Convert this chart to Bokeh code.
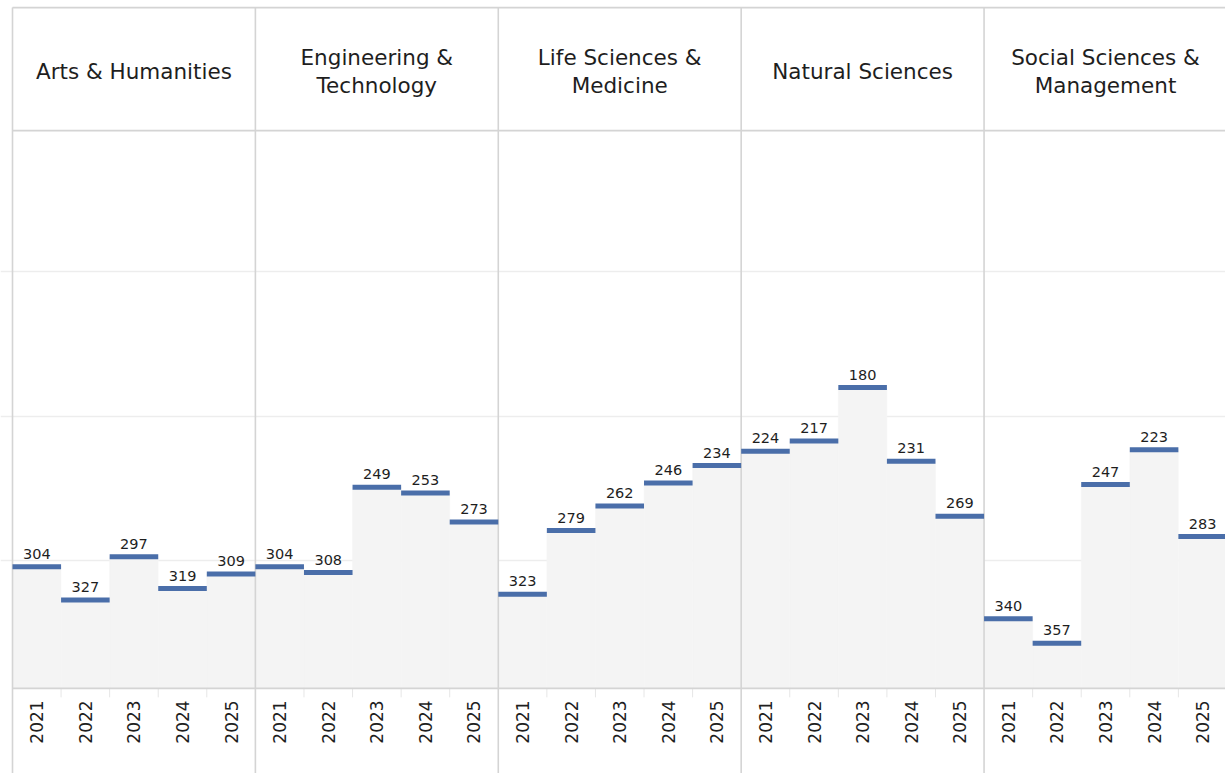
import math
from bokeh.plotting import figure
from bokeh.models import Range1d, FixedTicker, ColumnDataSource, Grid
from bokeh.embed import file_html
from bokeh.resources import INLINE
from bokeh.core.properties import value

# ---------------- data ----------------
subjects = ["Arts & Humanities", "Engineering & Technology", "Life Sciences & Medicine",
            "Natural Sciences", "Social Sciences & Management"]
header_labels = ["Arts & Humanities", "Engineering &\nTechnology", "Life Sciences &\nMedicine",
                 "Natural Sciences", "Social Sciences &\nManagement"]
years = ["2021", "2022", "2023", "2024", "2025"]
arts_humanities = [304, 327, 297, 319, 309]
engineering_technology = [304, 308, 249, 253, 273]
life_sciences_medicine = [323, 279, 262, 246, 234]
natural_sciences = [224, 217, 180, 231, 269]
social_sciences_management = [340, 357, 247, 223, 283]
series = [arts_humanities, engineering_technology, life_sciences_medicine,
          natural_sciences, social_sciences_management]

# ---------------- layout constants (rank scale, inverted) ----------------
RANK_TOP = 2.1        # header bottom line
RANK_BASE = 388.2     # bottom of the plot pane (axis baseline)
CANVAS_TOP = -87.9
CANVAS_BOTTOM = 447.1
TOP_LINE_Y = -83.0
HEADER_Y = -38.8
YEAR_LABEL_Y = 396.5
TICK_LEN = 6.2
LABEL_GAP = 8.9
GRID_TICKS = [100, 200, 300]
NY = len(years)

FONT = value("DejaVu Sans")
BLUE = "#4a6ea9"
FILL = "#f4f4f4"
BORDER = "#d4d4d4"
TEXT = "#1e1e1e"

# ---------------- sources ----------------
xs, vals, labels, year_lab = [], [], [], []
for si, vs in enumerate(series):
    for j, v in enumerate(vs):
        xs.append(si * NY + j)
        vals.append(v)
        labels.append(str(v))
        year_lab.append(years[j])
src = ColumnDataSource(dict(
    left=xs,
    right=[x + 1 for x in xs],
    mid=[x + 0.5 for x in xs],
    val=vals,
    vlab=[v - LABEL_GAP for v in vals],
    lab=labels,
    year=year_lab,
    base=[RANK_BASE] * len(xs),
    ylab=[YEAR_LABEL_Y] * len(xs),
))

n_total = len(series) * NY
p = figure(width=1225, height=773,
           x_range=Range1d(-0.247, 24.97),
           y_range=Range1d(CANVAS_BOTTOM, CANVAS_TOP),
           x_axis_location=None, y_axis_location=None,
           toolbar_location=None, output_backend="svg",
           min_border=0, tools="")
p.outline_line_color = None
p.background_fill_color = "white"
p.border_fill_color = "white"
p.center = [r for r in p.center if not isinstance(r, Grid)]

p.add_layout(Grid(dimension=1, ticker=FixedTicker(ticks=GRID_TICKS),
                  grid_line_color="#ededed", grid_line_width=1.5))

# fills below each step
p.quad(left="left", right="right", top="val", bottom="base", source=src,
       fill_color=FILL, line_color=FILL, line_width=0.5)

# year separator ticks under baseline
tick_x = [si * NY + j for si in range(len(series)) for j in range(1, NY)]
p.segment(x0=tick_x, x1=tick_x, y0=[RANK_BASE] * len(tick_x),
          y1=[RANK_BASE + TICK_LEN] * len(tick_x),
          line_color="#e6e6e6", line_width=1)

# panel separators
sep_x = [si * NY for si in range(len(series) + 1)]
p.segment(x0=sep_x, x1=sep_x, y0=[TOP_LINE_Y] * len(sep_x),
          y1=[CANVAS_BOTTOM] * len(sep_x), line_color=BORDER, line_width=1.6)

# horizontal borders: top, header bottom, baseline
hy = [TOP_LINE_Y, RANK_TOP, RANK_BASE]
p.segment(x0=[0] * 3, x1=[n_total] * 3, y0=hy, y1=hy,
          line_color=BORDER, line_width=1.8)

# step lines
p.segment(x0="left", x1="right", y0="val", y1="val", source=src,
          line_color=BLUE, line_width=5, line_cap="butt")

# value labels
p.text(x="mid", y="vlab", text="lab", source=src, text_font=FONT,
       text_font_size="14.5px", text_color=TEXT, text_align="center",
       text_baseline="alphabetic")

# year labels
p.text(x="mid", y="ylab", text="year", source=src, text_font=FONT,
       text_font_size="17px", text_color=TEXT, text_align="right",
       text_baseline="middle", angle=math.pi / 2)

# headers
hx = [si * NY + NY / 2 for si in range(len(series))]
p.text(x=hx, y=[HEADER_Y] * len(hx), text=header_labels, text_font=FONT,
       text_font_size="21.5px", text_color=TEXT, text_align="center",
       text_baseline="middle", text_line_height=1.14)

open("out.html", "w").write(file_html(p, INLINE))
